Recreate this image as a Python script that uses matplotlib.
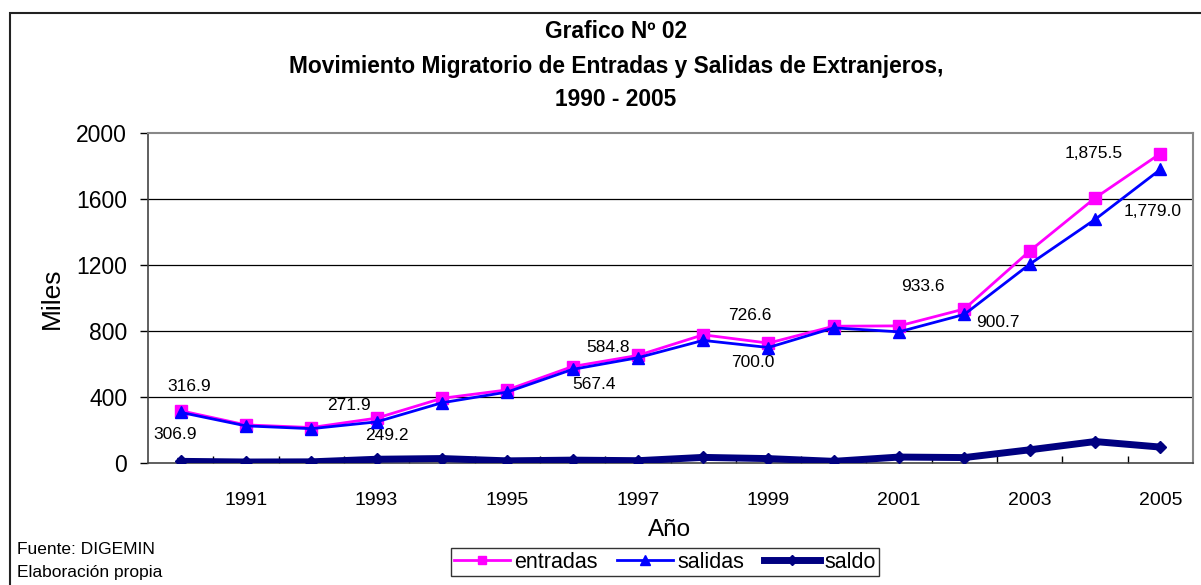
import matplotlib
matplotlib.use("Agg")
import matplotlib.pyplot as plt
import matplotlib.patches as patches
import numpy as np

plt.rcParams['font.family'] = ['Liberation Sans', 'DejaVu Sans']

# Data (miles de personas)
years = [1990, 1991, 1992, 1993, 1994, 1995, 1996, 1997, 1998, 1999, 2000, 2001, 2002, 2003, 2004, 2005]
entradas = [316.9, 231, 215, 271.9, 392, 443, 584.8, 652, 777, 726.6, 829, 831, 933.6, 1285, 1606, 1875.5]
salidas = [306.9, 225, 208, 249.2, 365, 430, 567.4, 638, 743, 700.0, 819, 795, 900.7, 1205, 1476, 1779.0]
saldo = [10.0, 6, 7, 22.7, 27, 13, 17.4, 14, 34, 26.6, 10, 36, 32.9, 80, 130, 96.5]

yticks = [0, 400, 800, 1200, 1600, 2000]
xlabels = [str(y) for y in years[1::2]]

x = np.arange(len(years))

fig = plt.figure(figsize=(12.01, 5.85), dpi=100)
ax = fig.add_axes([148 / 1201, 1 - 463 / 585, 1045 / 1201, 330 / 585])

# outer chart frame (cut off at the right and bottom)
fig.patches.append(patches.Rectangle((10 / 1201, -0.2), 1.2, 1.2 - 13 / 585,
                                     transform=fig.transFigure, fill=False,
                                     edgecolor='#222222', linewidth=1.5))

for g in yticks[1:-1]:
    ax.axhline(g, color='black', linewidth=0.9, zorder=1)

ax.plot(x, entradas, color='#FF00FF', marker='s', markersize=8, linewidth=2,
        label='entradas', zorder=3)
ax.plot(x, salidas, color='#0000FF', marker='^', markersize=9, linewidth=2,
        label='salidas', zorder=4)
ax.plot(x, saldo, color='#000080', marker='D', markersize=6, linewidth=5,
        label='saldo', zorder=5)

# data labels: index -> pixel offset
ent_lab = {0: (9, 24), 3: (-28, 13), 6: (36, 19), 9: (-19, 28), 12: (-42, 22), 15: (-67, 0)}
sal_lab = {0: (-6, -22), 3: (10, -14), 6: (22, -15), 9: (-16, -15), 12: (33, -8), 15: (-8, -42)}


def fmt(v):
    return f"{v:,.1f}"


for i, off in ent_lab.items():
    ax.annotate(fmt(entradas[i]), (x[i], entradas[i]), xytext=off, textcoords='offset pixels',
                ha='center', va='center', fontsize=12.5)
for i, off in sal_lab.items():
    ax.annotate(fmt(salidas[i]), (x[i], salidas[i]), xytext=off, textcoords='offset pixels',
                ha='center', va='center', fontsize=12.5)

ax.set_xlim(-0.5, len(years) - 0.5)
ax.set_ylim(0, 2000)
ax.set_yticks(yticks)
ax.set_yticklabels([str(t) for t in yticks], fontsize=16.5)
ax.tick_params(axis='y', direction='out', length=6, width=1, pad=9)

ax.set_xticks(x[1::2])
ax.set_xticklabels(xlabels, fontsize=14)
ax.tick_params(axis='x', which='major', length=0, pad=21)
ax.set_xticks(np.arange(0.5, len(years) - 0.5, 1), minor=True)
ax.tick_params(axis='x', which='minor', direction='in', length=5, width=1)

for s in ['top', 'right']:
    ax.spines[s].set_color('#888888')
    ax.spines[s].set_linewidth(1.5)
for s in ['left', 'bottom']:
    ax.spines[s].set_color('#444444')
    ax.spines[s].set_linewidth(1.2)

fig.text(52 / 1201, 1 - 298 / 585, 'Miles', rotation=90, ha='center', va='center', fontsize=19)
fig.text(670 / 1201, 1 - 530 / 585, 'Año', ha='center', va='center', fontsize=17.5)

title_x = 616 / 1201
fig.text(title_x, 1 - 32 / 585, 'Grafico Nº 02', ha='center', va='center',
         fontsize=16.4, fontweight='bold')
fig.text(title_x, 1 - 67 / 585, 'Movimiento Migratorio de Entradas y Salidas de Extranjeros,',
         ha='center', va='center', fontsize=16.4, fontweight='bold')
fig.text(title_x, 1 - 99 / 585, '1990 - 2005', ha='center', va='center',
         fontsize=16.4, fontweight='bold')

fig.text(17 / 1201, 1 - 549 / 585, 'Fuente: DIGEMIN', ha='left', va='center', fontsize=12.5)
fig.text(17 / 1201, 1 - 573 / 585, 'Elaboración propia', ha='left', va='center', fontsize=12.5)

leg = fig.legend(loc='center', bbox_to_anchor=(665 / 1201, 1 - 562 / 585), ncol=3,
                 fontsize=15.5, frameon=True, fancybox=False, edgecolor='black',
                 handlelength=2.6, handletextpad=0.2, columnspacing=0.9,
                 borderpad=0.15, markerscale=0.8)
leg.get_frame().set_linewidth(1)

fig.savefig('out.png', dpi=100)
